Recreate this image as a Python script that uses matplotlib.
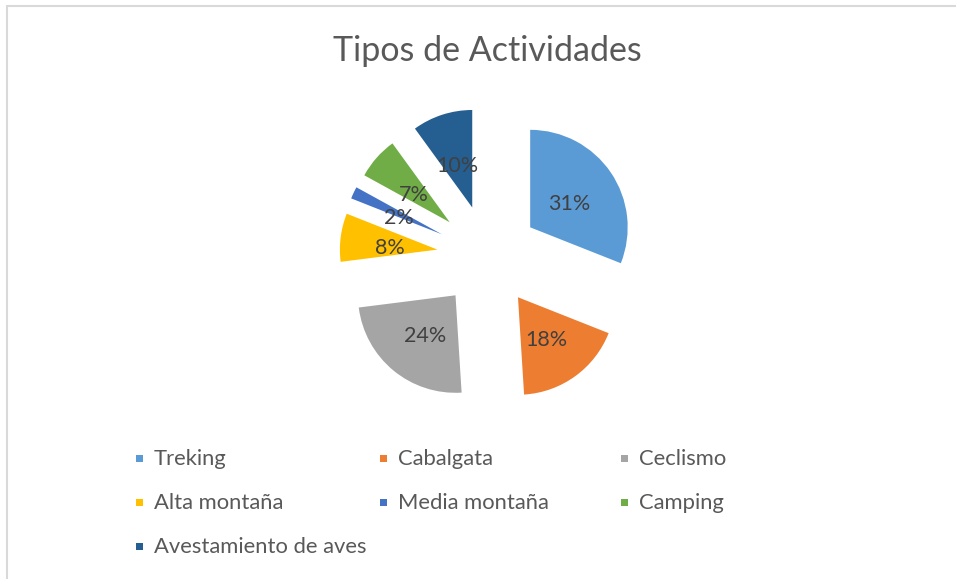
import matplotlib.pyplot as plt
from matplotlib.patches import Rectangle

plt.rcParams['font.family'] = ['Lato', 'DejaVu Sans']

actividades = ['Treking', 'Cabalgata', 'Ceclismo', 'Alta montaña',
               'Media montaña', 'Camping', 'Avestamiento de aves']
porcentajes = [31, 18, 24, 8, 2, 7, 10]
colores = ['#5B9BD5', '#ED7D31', '#A5A5A5', '#FFC000',
           '#4472C4', '#70AD47', '#255E91']

W, H = 956, 579
fig = plt.figure(figsize=(W / 100, H / 100), dpi=100)
ax = fig.add_axes([0, 0, 1, 1])


def py(y):
    # coordenada vertical medida desde arriba
    return H - y


# marco del grafico (solo se ven los bordes superior e izquierdo)
ax.add_patch(Rectangle((7, -20), W + 20, py(6) + 20, fill=False,
                       edgecolor='#D9D9D9', linewidth=1.5))

ax.text(487, py(51), 'Tipos de Actividades', ha='center', va='center',
        fontsize=24.5, color='#595959')

# pastel con todas las porciones separadas
radio = 97.5
_, _, autotexts = ax.pie(porcentajes, colors=colores, startangle=90,
                         counterclock=False, center=(488, py(256)),
                         radius=radio, explode=[51] * len(porcentajes),
                         autopct='%1.0f%%', pctdistance=0.49,
                         textprops={'fontsize': 15.5, 'color': '#404040'},
                         wedgeprops={'linewidth': 0}, frame=True)
# bajar un poco las etiquetas de porcentaje
for t in autotexts:
    x, y = t.get_position()
    t.set_position((x, y - 4))

ax.set_xlim(0, W)
ax.set_ylim(0, H)
ax.set_aspect('equal')
ax.axis('off')

# leyenda en tres columnas
col_x = [136, 380, 621]
fila_y = [458, 502, 546]
for i, (nombre, color) in enumerate(zip(actividades, colores)):
    x = col_x[i % 3]
    y = py(fila_y[i // 3])
    ax.add_patch(Rectangle((x, y - 3.5), 7, 7, facecolor=color, edgecolor='none'))
    ax.text(x + 18, y - 1, nombre, ha='left', va='center',
            fontsize=15.8, color='#595959')

fig.savefig('out.png', dpi=100)
